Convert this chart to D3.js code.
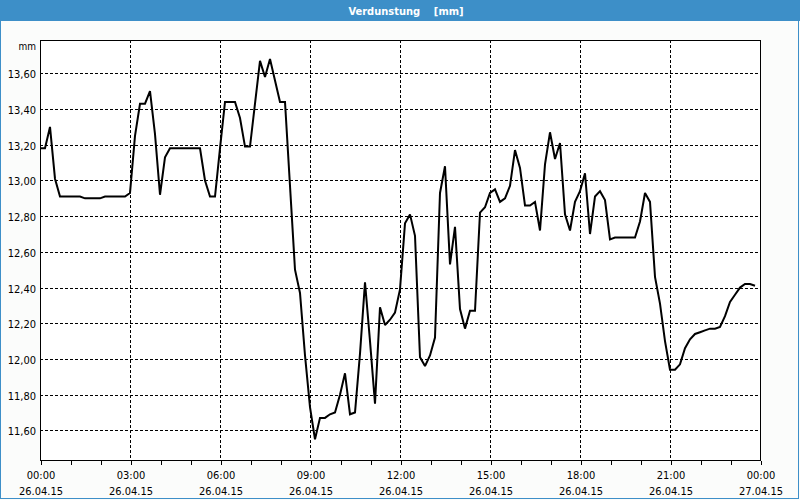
<!DOCTYPE html>
<html>
<head>
<meta charset="utf-8">
<script src="https://cdn.jsdelivr.net/npm/d3@7"></script>
<style>
  html, body { margin: 0; padding: 0; background: #ffffff; }
  svg { display: block; }
  text { font-family: "DejaVu Sans Condensed", "DejaVu Sans", sans-serif; }
</style>
</head>
<body>
<svg id="chart" width="800" height="500"></svg>
<script>
// ---- data ----
const chartTitle = "Verdunstung    [mm]";
const unitLabel = "mm";
const startTime = "2015-04-26T00:00";   // first sample
const endTime = "2015-04-27T00:00";     // end of axis
const stepMinutes = 10;                  // sampling interval
// Evaporation values [mm], one every 10 minutes from 00:00
const values = [
  13.18, 13.18, 13.30, 13.01, 12.91, 12.91, 12.91, 12.91, 12.91, 12.90, 12.90, 12.90,   // 00:00-01:50
  12.90, 12.91, 12.91, 12.91, 12.91, 12.91, 12.93, 13.25, 13.43, 13.43, 13.50, 13.26,   // 02:00-03:50
  12.92, 13.13, 13.18, 13.18, 13.18, 13.18, 13.18, 13.18, 13.18, 13.00, 12.91, 12.91,   // 04:00-05:50
  13.18, 13.44, 13.44, 13.44, 13.35, 13.19, 13.19, 13.43, 13.67, 13.58, 13.68, 13.56,   // 06:00-07:50
  13.44, 13.44, 12.97, 12.50, 12.37, 12.02, 11.73, 11.55, 11.67, 11.67, 11.69, 11.70,   // 08:00-09:50
  11.80, 11.92, 11.69, 11.70, 12.03, 12.43, 12.10, 11.75, 12.29, 12.19, 12.22, 12.26,   // 10:00-11:50
  12.39, 12.76, 12.81, 12.69, 12.01, 11.96, 12.02, 12.12, 12.93, 13.08, 12.53, 12.74,   // 12:00-13:50
  12.28, 12.17, 12.27, 12.27, 12.82, 12.85, 12.93, 12.95, 12.88, 12.90, 12.97, 13.17,   // 14:00-15:50
  13.07, 12.86, 12.86, 12.88, 12.72, 13.09, 13.27, 13.12, 13.21, 12.81, 12.72, 12.88,   // 16:00-17:50
  12.94, 13.04, 12.70, 12.91, 12.94, 12.89, 12.67, 12.68, 12.68, 12.68, 12.68, 12.68,   // 18:00-19:50
  12.77, 12.93, 12.88, 12.46, 12.31, 12.10, 11.94, 11.94, 11.97, 12.06, 12.11, 12.14,   // 20:00-21:50
  12.15, 12.16, 12.17, 12.17, 12.18, 12.24, 12.32, 12.36, 12.40, 12.42, 12.42, 12.41    // 22:00-23:50
];
const yTicks = [11.6, 11.8, 12.0, 12.2, 12.4, 12.6, 12.8, 13.0, 13.2, 13.4, 13.6];
const yDomain = [11.434, 13.787];

// ---- layout ----
const W = 800, H = 500;
const blue = "#3d8fc8";
const plot = { left: 40, top: 40, right: 760, bottom: 460 };

const svg = d3.select("#chart");

// window background & frame
svg.append("rect").attr("x", 0).attr("y", 0).attr("width", W).attr("height", H).attr("fill", "#fbfcfb");
svg.append("rect").attr("x", 0).attr("y", 0).attr("width", W).attr("height", 21).attr("fill", blue);
svg.append("rect").attr("x", 0.5).attr("y", 0.5).attr("width", 798).attr("height", 498)
  .attr("fill", "none").attr("stroke", blue).attr("stroke-width", 1);

svg.append("text")
  .attr("x", 406).attr("y", 14.5)
  .attr("text-anchor", "middle")
  .attr("fill", "#ffffff")
  .attr("font-weight", "bold")
  .attr("font-size", "11px")
  .style("white-space", "pre")
  .text(chartTitle);

// plot area
svg.append("rect")
  .attr("x", plot.left).attr("y", plot.top)
  .attr("width", plot.right - plot.left).attr("height", plot.bottom - plot.top)
  .attr("fill", "#ffffff");

const parse = d3.timeParse("%Y-%m-%dT%H:%M");
const t0 = parse(startTime), t1 = parse(endTime);
const series = values.map((v, i) => ({ t: d3.timeMinute.offset(t0, i * stepMinutes), v }));

const x = d3.scaleTime().domain([t0, t1]).range([plot.left, plot.right]);
const y = d3.scaleLinear().domain(yDomain).range([plot.bottom, plot.top]);

// grid
const grid = svg.append("g").attr("stroke", "#000").attr("stroke-width", 1)
  .attr("stroke-dasharray", "3,2").attr("shape-rendering", "crispEdges");
yTicks.forEach(v => {
  const yy = Math.round(y(v)) + 0.5;
  grid.append("line").attr("x1", plot.left).attr("x2", plot.right).attr("y1", yy).attr("y2", yy);
});
const majorTicks = x.ticks(d3.timeHour.every(3));
majorTicks.forEach(t => {
  const xx = Math.round(x(t)) + 0.5;
  if (xx - 0.5 <= plot.left || xx - 0.5 >= plot.right) return;
  grid.append("line").attr("x1", xx).attr("x2", xx).attr("y1", plot.top).attr("y2", plot.bottom);
});

// frame
svg.append("rect")
  .attr("x", plot.left + 0.5).attr("y", plot.top + 0.5)
  .attr("width", plot.right - plot.left).attr("height", plot.bottom - plot.top)
  .attr("fill", "none").attr("stroke", "#000").attr("stroke-width", 1)
  .attr("shape-rendering", "crispEdges");

// x axis ticks (hourly) and labels
const xAxis = d3.axisBottom(x).ticks(d3.timeHour.every(1)).tickSize(4).tickFormat("");
const gx = svg.append("g").attr("transform", `translate(0.5,${plot.bottom + 0.5})`).call(xAxis);
gx.select(".domain").remove();
gx.selectAll("line").attr("stroke", "#000").attr("shape-rendering", "crispEdges");

const fTime = d3.timeFormat("%H:%M"), fDate = d3.timeFormat("%d.%m.%y");
const lbl = svg.append("g").attr("font-size", "11px").attr("fill", "#000").attr("text-anchor", "middle");
majorTicks.forEach(t => {
  lbl.append("text").attr("x", x(t) + 1).attr("y", 479).text(fTime(t));
  lbl.append("text").attr("x", x(t) + 1).attr("y", 494.5).text(fDate(t));
});

// y labels
const fNum = v => d3.format(".2f")(v).replace(".", ",");
const ylbl = svg.append("g").attr("font-size", "11px").attr("fill", "#000").attr("text-anchor", "end");
yTicks.forEach(v => {
  ylbl.append("text").attr("x", 36).attr("y", Math.round(y(v)) + 4.5).text(fNum(v));
});
ylbl.append("text").attr("x", 36).attr("y", 50).attr("font-size", "10px").text(unitLabel);

// line
const line = d3.line().x(d => x(d.t)).y(d => y(d.v));
svg.append("path")
  .datum(series)
  .attr("d", line)
  .attr("fill", "none")
  .attr("stroke", "#000")
  .attr("stroke-width", 2)
  .attr("stroke-linejoin", "miter")
  .attr("stroke-miterlimit", 2);
</script>
</body>
</html>
